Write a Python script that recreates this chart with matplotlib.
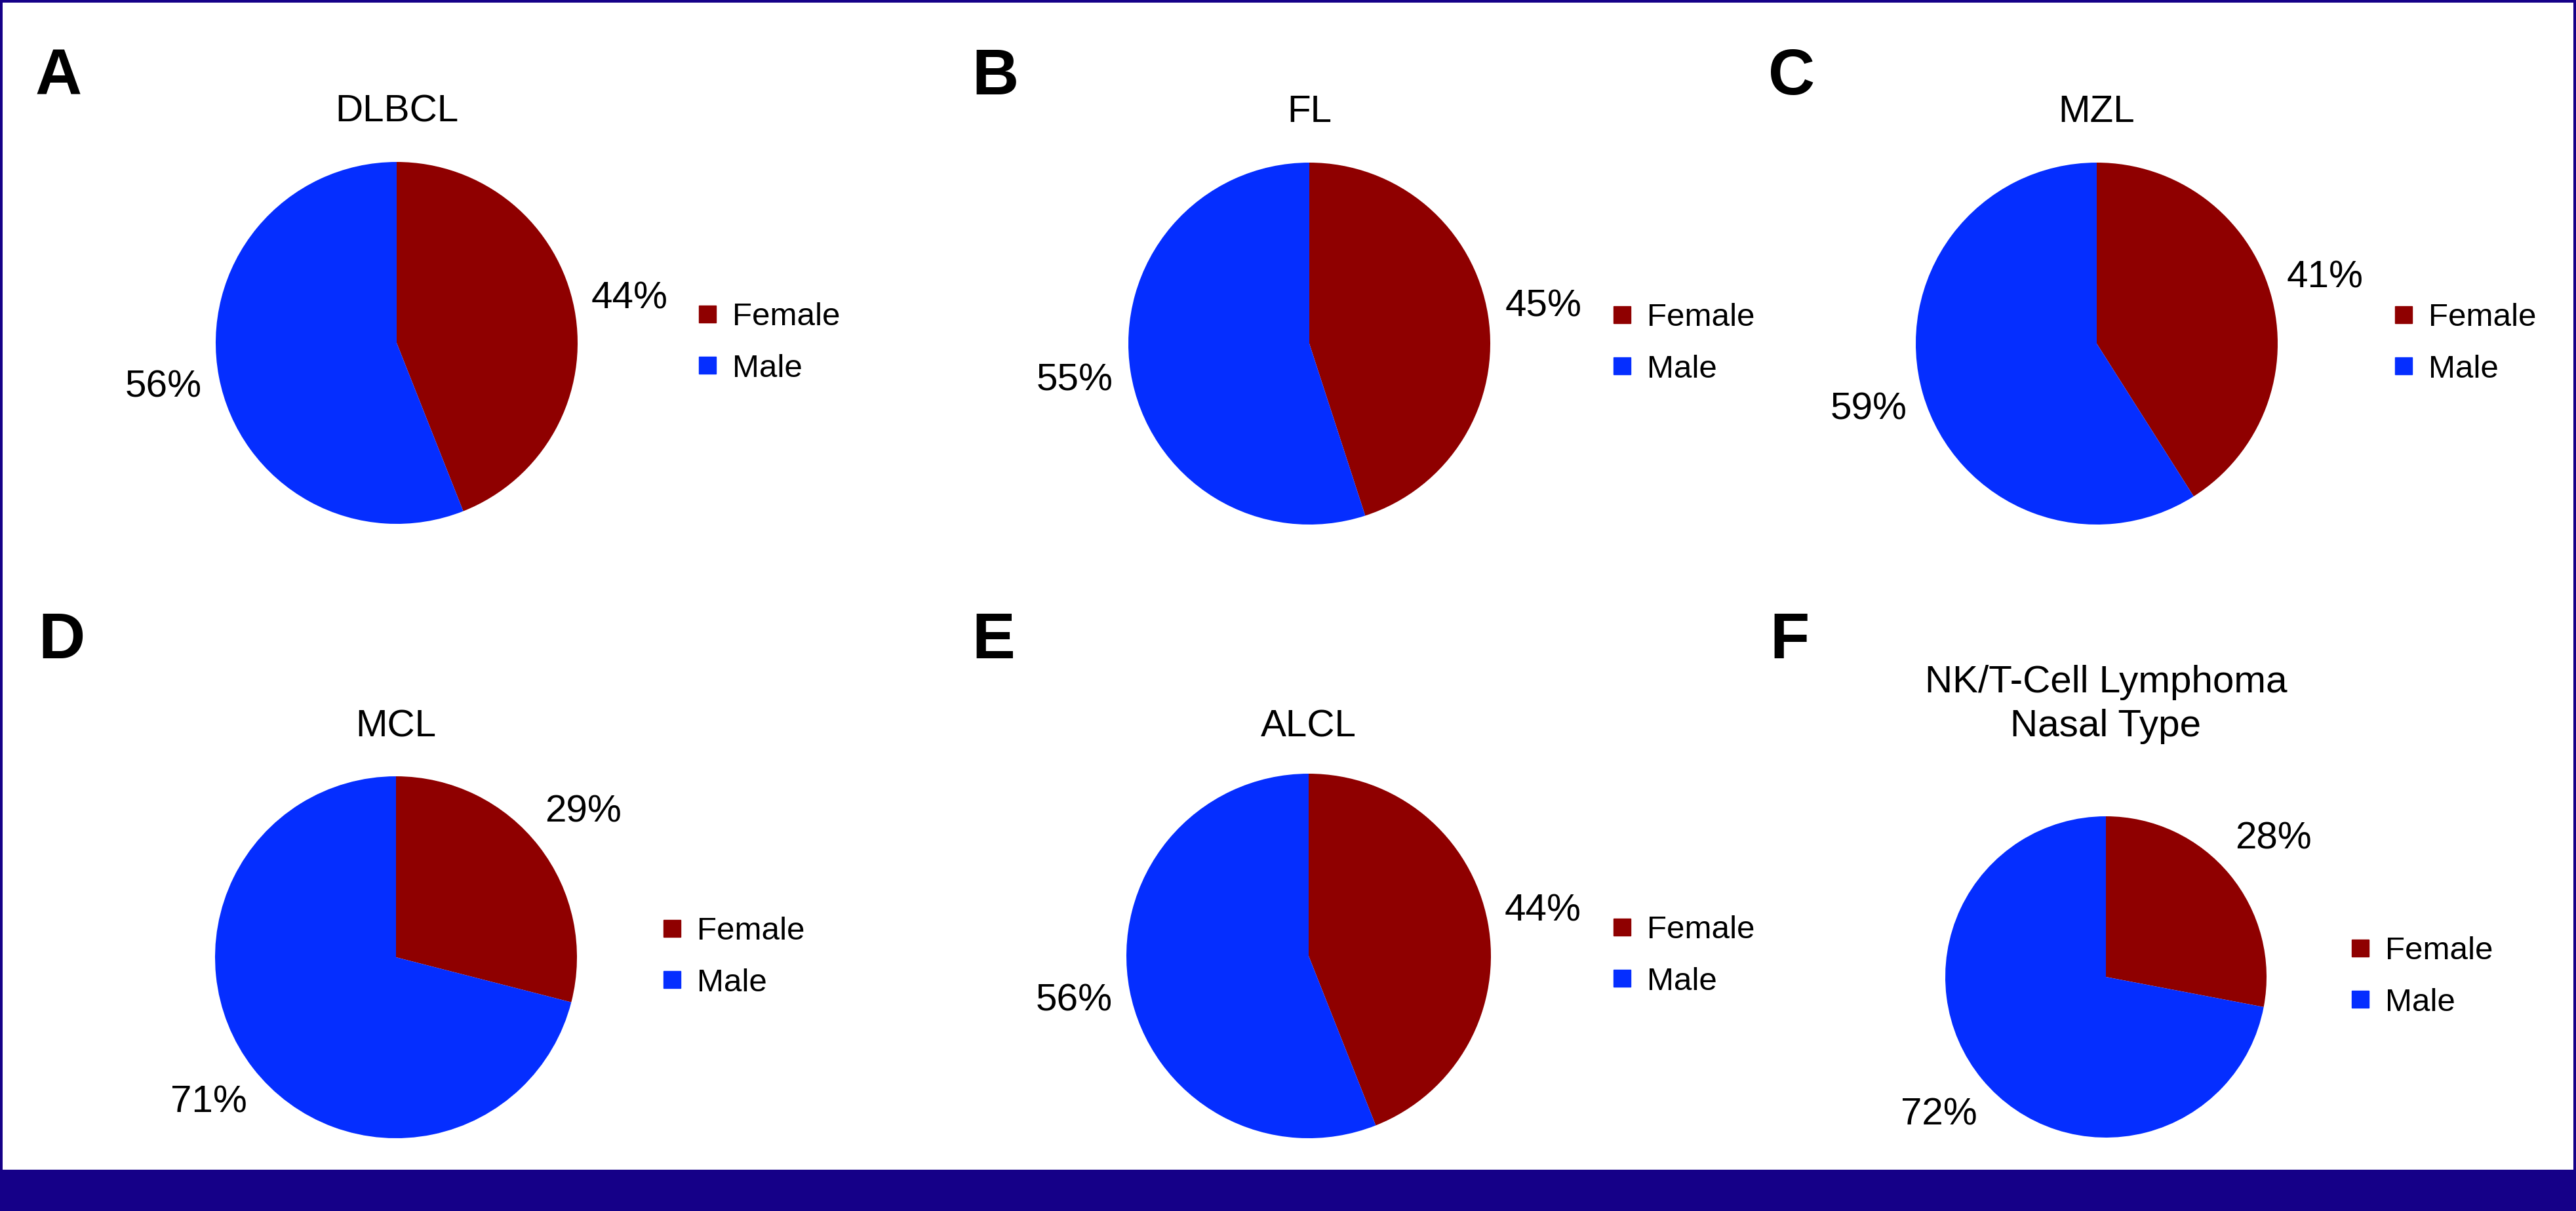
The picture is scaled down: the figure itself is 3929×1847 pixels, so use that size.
import matplotlib
matplotlib.use('Agg')
import matplotlib.pyplot as plt
from matplotlib.lines import Line2D
from matplotlib.patches import Rectangle

plt.rcParams['font.family'] = ['Liberation Sans', 'DejaVu Sans']

# data
subtypes = ['DLBCL', 'FL', 'MZL', 'MCL', 'ALCL', 'NK/T-Cell Lymphoma\nNasal Type']
letters = ['A', 'B', 'C', 'D', 'E', 'F']
sexes = ['Female', 'Male']
female_pct = [44, 45, 41, 29, 44, 28]
male_pct = [56, 55, 59, 71, 56, 72]

colors = ['#8f0000', '#052eff']
navy = '#150088'

W, H = 3930, 1847
fig = plt.figure(figsize=(W / 100, H / 100), dpi=100)
fig.patch.set_facecolor('white')

# layout in pixels (x, y from top-left)
centers = [(605, 523), (1997, 524), (3198, 524), (604, 1460), (1996, 1458), (3212, 1490)]
radii = [276, 276, 276, 276, 278, 245]
title_y = [186, 186, 186, 1123, 1123, 1123]   # baseline of last line
letter_xy = [(54, 144), (1482, 144), (2697, 144), (58, 1004), (1482, 1004), (2699, 1004)]
legend_gap = [185, 188, 179, 132, 187, 130]

fs = 42        # titles and percentages
fs_leg = 35.5  # legend

def fx(x):
    return x / W

def fy(y):
    return 1 - y / H

handles = [Line2D([], [], marker='s', ls='', color=c, markersize=18.7) for c in colors]

for i in range(6):
    cx, cy = centers[i]
    r = radii[i]
    ax = fig.add_axes([fx(cx - r), fy(cy + r), 2 * r / W, 2 * r / H])
    ax.pie([female_pct[i], male_pct[i]], colors=colors, startangle=90, counterclock=False,
           autopct='%1.0f%%', pctdistance=1 + 86 / r, radius=1,
           wedgeprops=dict(linewidth=0), textprops=dict(fontsize=fs, color='black'))
    ax.set_xlim(-1, 1)
    ax.set_ylim(-1, 1)
    ax.axis('off')
    ax.legend(handles, sexes, loc='center left', bbox_to_anchor=(1 + legend_gap[i] / (2 * r), 0.5),
              frameon=False, borderpad=0, borderaxespad=0, handlelength=0.53,
              handletextpad=0.5, labelspacing=0.67, fontsize=fs_leg)

    fig.text(fx(cx), fy(title_y[i]), subtypes[i], ha='center', va='baseline',
             fontsize=fs, linespacing=1.3, multialignment='center')
    lx, ly = letter_xy[i]
    fig.text(fx(lx), fy(ly), letters[i], ha='left', va='baseline',
             fontsize=71, fontweight='bold')

# frame
fig.add_artist(Rectangle((0, 0), 1, 63 / H, transform=fig.transFigure, color=navy, lw=0))
fig.add_artist(Rectangle((0, 0), 4 / W, 1, transform=fig.transFigure, color=navy, lw=0))
fig.add_artist(Rectangle((0, 1 - 4 / H), 1, 4 / H, transform=fig.transFigure, color=navy, lw=0))
fig.add_artist(Rectangle((1 - 5 / W, 0), 5 / W, 1, transform=fig.transFigure, color=navy, lw=0))

fig.savefig('out.png', dpi=100, facecolor='white')
